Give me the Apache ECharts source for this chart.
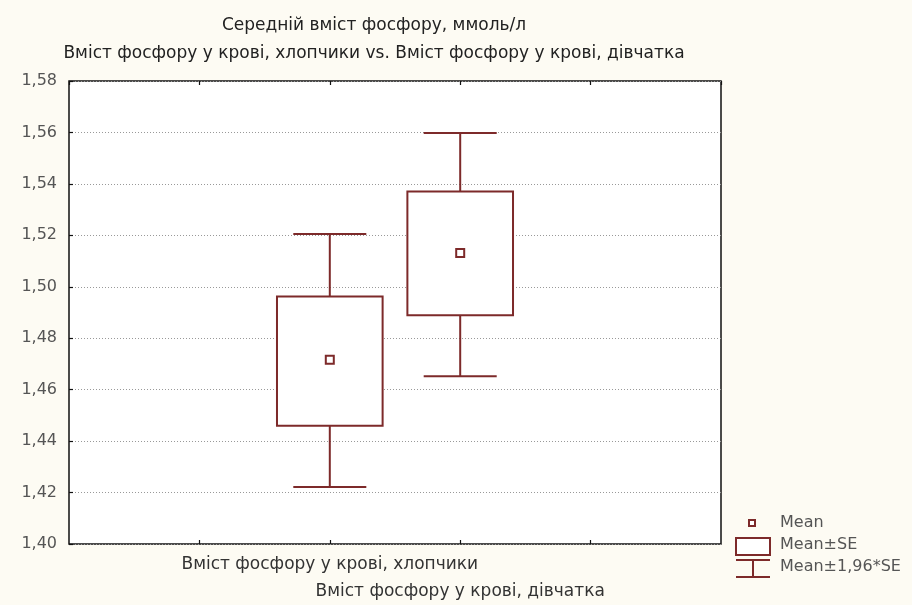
<!DOCTYPE html>
<html>
<head>
<meta charset="utf-8">
<title>Середній вміст фосфору</title>
<script src="https://cdn.jsdelivr.net/npm/echarts@6/dist/echarts.min.js"></script>
<style>
  html, body { margin: 0; padding: 0; background: #fdfbf3; }
  #chart { width: 912px; height: 605px; }
</style>
</head>
<body>
<div id="chart"></div>
<script>
// Groups and their positions on the x axis
const groups = ['Вміст фосфору у крові, хлопчики', 'Вміст фосфору у крові, дівчатка'];
const groupPos = [2, 3];

// Mean, Mean±SE and Mean±1,96*SE for each group (ммоль/л)
const means  = [1.4716, 1.5131];
const seLow  = [1.4460, 1.4889];
const seHigh = [1.4962, 1.5370];
const ciLow  = [1.4222, 1.4652];
const ciHigh = [1.5205, 1.5598];

// Y axis ticks
const yMin = 1.40, yMax = 1.58, yStep = 0.02;

const titleMain = 'Середній вміст фосфору, ммоль/л';
const titleSub = 'Вміст фосфору у крові, хлопчики vs. Вміст фосфору у крові, дівчатка';
const legendNames = ['Mean', 'Mean±SE', 'Mean±1,96*SE'];

const RED = '#7d2a2a';
const FONT = '"DejaVu Sans", Verdana, sans-serif';
const BOX_W = 0.81;   // in x-axis units
const CAP_W = 0.56;

const chart = echarts.init(document.getElementById('chart'), null, { renderer: 'canvas' });

const boxData = groupPos.map((x, i) => [x, seLow[i], seHigh[i]]);
const whiskerData = groupPos.map((x, i) => [x, ciLow[i], ciHigh[i]]);
const meanData = groupPos.map((x, i) => [x, means[i]]);

const tickStyle = { show: true, inside: true, length: 4, lineStyle: { color: '#111', width: 1.2 } };

const option = {
  backgroundColor: '#fdfbf3',
  animation: false,
  textStyle: { fontFamily: FONT },
  grid: {
    left: 69, right: 191, top: 81, bottom: 61,
    show: true, backgroundColor: '#ffffff',
    borderColor: '#111', borderWidth: 1.5
  },
  xAxis: [{
    type: 'value', min: 0, max: 5, interval: 1,
    axisLine: { show: false },
    axisTick: tickStyle,
    splitLine: { show: false },
    axisLabel: {
      margin: 7, color: '#333', fontSize: 17, fontFamily: FONT,
      lineHeight: 27, verticalAlign: 'top',
      showMinLabel: false, showMaxLabel: false,
      formatter: function (v) {
        const i = groupPos.indexOf(v);
        if (i < 0) return '';
        return i === 0 ? groups[i] : '\n' + groups[i];
      }
    }
  }, {
    type: 'value', position: 'top', min: 0, max: 5, interval: 1,
    axisLine: { show: false },
    axisTick: tickStyle,
    axisLabel: { show: false },
    splitLine: { show: false }
  }],
  yAxis: {
    type: 'value', min: yMin, max: yMax, interval: yStep,
    axisLine: { show: false },
    axisTick: tickStyle,
    splitLine: { show: true, lineStyle: { color: '#999', type: [1, 2], width: 1 } },
    axisLabel: {
      margin: 12, color: '#555', fontSize: 16, fontFamily: FONT,
      formatter: v => v.toFixed(2).replace('.', ',')
    }
  },
  series: [{
    name: legendNames[2],
    type: 'custom',
    z: 2,
    data: whiskerData,
    renderItem: function (params, api) {
      const x = api.value(0);
      const lo = api.coord([x, api.value(1)]);
      const hi = api.coord([x, api.value(2)]);
      const cw = api.size([CAP_W, 0])[0];
      const st = { stroke: RED, lineWidth: 2, fill: null };
      return {
        type: 'group',
        children: [
          { type: 'line', shape: { x1: lo[0], y1: lo[1], x2: hi[0], y2: hi[1] }, style: st },
          { type: 'line', shape: { x1: hi[0] - cw / 2, y1: hi[1], x2: hi[0] + cw / 2, y2: hi[1] }, style: st },
          { type: 'line', shape: { x1: lo[0] - cw / 2, y1: lo[1], x2: lo[0] + cw / 2, y2: lo[1] }, style: st }
        ]
      };
    }
  }, {
    name: legendNames[1],
    type: 'custom',
    z: 3,
    data: boxData,
    renderItem: function (params, api) {
      const x = api.value(0);
      const lo = api.coord([x, api.value(1)]);
      const hi = api.coord([x, api.value(2)]);
      const w = api.size([BOX_W, 0])[0];
      return {
        type: 'rect',
        shape: { x: hi[0] - w / 2, y: hi[1], width: w, height: lo[1] - hi[1] },
        style: { fill: '#ffffff', stroke: RED, lineWidth: 2 }
      };
    }
  }, {
    name: legendNames[0],
    type: 'scatter',
    z: 4,
    symbol: 'rect',
    symbolSize: 8,
    itemStyle: { color: '#ffffff', borderColor: RED, borderWidth: 2, opacity: 1 },
    data: meanData
  }],
  graphic: [
    // titles
    { type: 'text', x: 374, y: 26, style: { text: titleMain, font: '17px ' + FONT, fill: '#222', textAlign: 'center', textVerticalAlign: 'middle' } },
    { type: 'text', x: 374, y: 54, style: { text: titleSub, font: '17px ' + FONT, fill: '#222', textAlign: 'center', textVerticalAlign: 'middle' } },
    // legend: mean marker
    { type: 'rect', shape: { x: 749, y: 520, width: 6, height: 6 }, style: { fill: '#fff', stroke: RED, lineWidth: 2 } },
    { type: 'text', x: 780, y: 523, style: { text: legendNames[0], font: '16px ' + FONT, fill: '#555', textVerticalAlign: 'middle' } },
    // legend: SE box
    { type: 'rect', shape: { x: 736, y: 538, width: 34, height: 17 }, style: { fill: '#fff', stroke: RED, lineWidth: 2 } },
    { type: 'text', x: 780, y: 545, style: { text: legendNames[1], font: '16px ' + FONT, fill: '#555', textVerticalAlign: 'middle' } },
    // legend: 1,96*SE whisker
    { type: 'line', shape: { x1: 736, y1: 560, x2: 770, y2: 560 }, style: { stroke: RED, lineWidth: 2 } },
    { type: 'line', shape: { x1: 753, y1: 560, x2: 753, y2: 577 }, style: { stroke: RED, lineWidth: 2 } },
    { type: 'line', shape: { x1: 736, y1: 577, x2: 770, y2: 577 }, style: { stroke: RED, lineWidth: 2 } },
    { type: 'text', x: 780, y: 567, style: { text: legendNames[2], font: '16px ' + FONT, fill: '#555', textVerticalAlign: 'middle' } }
  ]
};

chart.setOption(option);
</script>
</body>
</html>
